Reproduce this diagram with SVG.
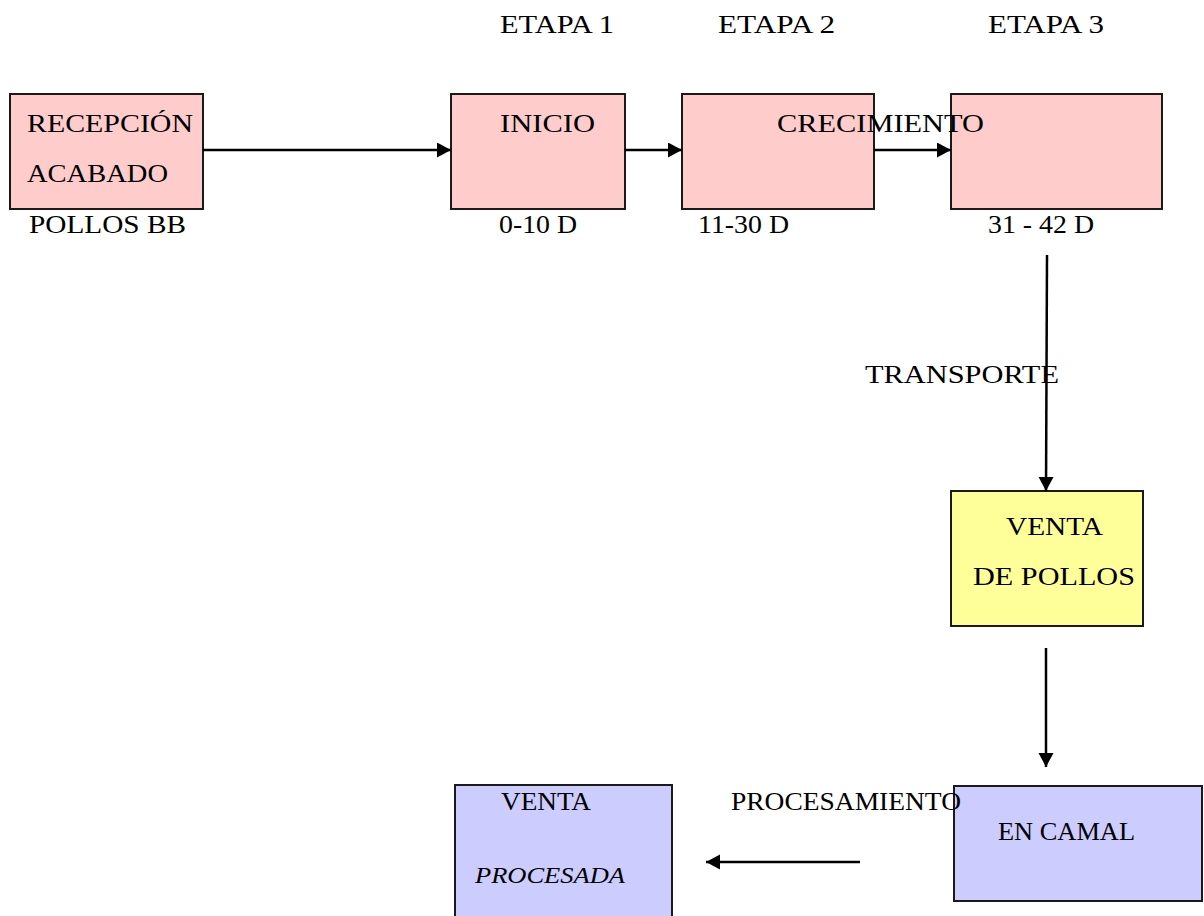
<svg xmlns="http://www.w3.org/2000/svg" width="1204" height="916" viewBox="0 0 1204 916">
<style>
.box{stroke:#1a1a1a;stroke-width:2}
.pink{fill:#FFCCCC}
.yellow{fill:#FFFF99}
.lav{fill:#CCCCFF}
.t{font-family:"Liberation Serif","Times New Roman",serif;font-size:26px;fill:#000}
.it{font-style:italic;font-size:24px}
.conn{stroke:#000;stroke-width:2.5;fill:none;marker-end:url(#ah)}
</style>
<defs>
<marker id="ah" markerUnits="userSpaceOnUse" markerWidth="16" markerHeight="16" refX="14" refY="7.5" orient="auto">
<path d="M0,0 L14,7.5 L0,15 Z" fill="#000"/>
</marker>
</defs>
<rect width="1204" height="916" fill="#fff"/>
<g id="headers">
<text class="t" x="500" y="33" textLength="114" lengthAdjust="spacingAndGlyphs">ETAPA 1</text>
<text class="t" x="718" y="33" textLength="117" lengthAdjust="spacingAndGlyphs">ETAPA 2</text>
<text class="t" x="988" y="33" textLength="116" lengthAdjust="spacingAndGlyphs">ETAPA 3</text>
</g>
<g id="recepcion">
<rect class="box pink" x="10" y="94" width="193" height="115"/>
<text class="t" x="27" y="132" textLength="166" lengthAdjust="spacingAndGlyphs">RECEPCIÓN</text>
<text class="t" x="27" y="182" textLength="141" lengthAdjust="spacingAndGlyphs">ACABADO</text>
<text class="t" x="29" y="233" textLength="157" lengthAdjust="spacingAndGlyphs">POLLOS BB</text>
</g>
<g id="inicio">
<rect class="box pink" x="451" y="94" width="174" height="115"/>
<text class="t" x="500" y="132" textLength="95" lengthAdjust="spacingAndGlyphs">INICIO</text>
<text class="t" x="499" y="233" textLength="78" lengthAdjust="spacingAndGlyphs">0-10 D</text>
</g>
<g id="crecimiento">
<rect class="box pink" x="682" y="94" width="192" height="115"/>
<text class="t" x="698" y="233" textLength="91" lengthAdjust="spacingAndGlyphs">11-30 D</text>
</g>
<g id="etapa3">
<rect class="box pink" x="951" y="94" width="211" height="115"/>
<text class="t" x="988" y="233" textLength="106" lengthAdjust="spacingAndGlyphs">31 - 42 D</text>
</g>
<g id="venta-pollos">
<rect class="box yellow" x="951" y="491" width="192" height="135"/>
<text class="t" x="1006" y="535" textLength="97" lengthAdjust="spacingAndGlyphs">VENTA</text>
<text class="t" x="973" y="585" textLength="162" lengthAdjust="spacingAndGlyphs">DE POLLOS</text>
</g>
<g id="en-camal">
<rect class="box lav" x="954" y="786" width="248" height="115"/>
<text class="t" x="998" y="840" textLength="137" lengthAdjust="spacingAndGlyphs">EN CAMAL</text>
</g>
<g id="venta-procesada">
<rect class="box lav" x="455" y="785" width="217" height="150"/>
<text class="t" x="501" y="810" textLength="90" lengthAdjust="spacingAndGlyphs">VENTA</text>
<text class="t it" x="475" y="883" textLength="150" lengthAdjust="spacingAndGlyphs">PROCESADA</text>
</g>
<g id="connectors">
<line class="conn" x1="203" y1="150" x2="451" y2="150"/>
<line class="conn" x1="625" y1="150" x2="682" y2="150"/>
<line class="conn" x1="874" y1="150" x2="951" y2="150"/>
<line class="conn" x1="1047" y1="255" x2="1046" y2="491"/>
<line class="conn" x1="1046" y1="648" x2="1046" y2="767"/>
<line class="conn" x1="860" y1="862" x2="706" y2="862"/>
</g>
<g id="labels">
<text class="t" x="777" y="132" textLength="207" lengthAdjust="spacingAndGlyphs">CRECIMIENTO</text>
<text class="t" x="865" y="383" textLength="194" lengthAdjust="spacingAndGlyphs">TRANSPORTE</text>
<text class="t" x="731" y="810" textLength="230" lengthAdjust="spacingAndGlyphs">PROCESAMIENTO</text>
</g>
</svg>
